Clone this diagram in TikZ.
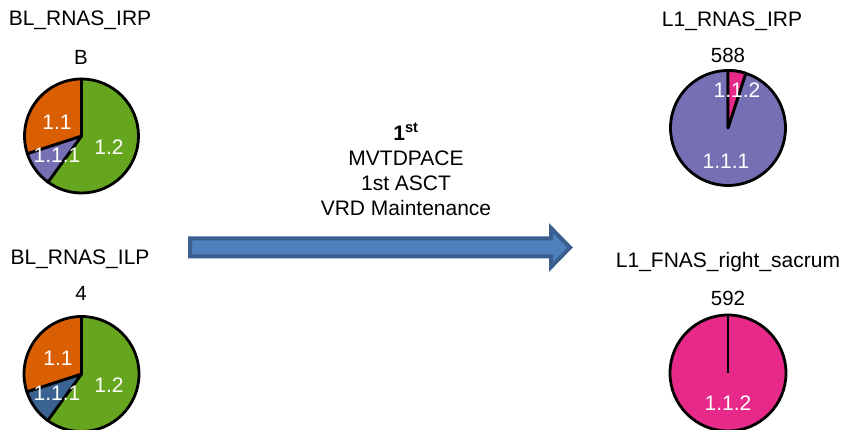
\documentclass[tikz,border=0pt]{standalone}
\usepackage{fontspec}
\setmainfont{Liberation Sans}
\usetikzlibrary{calc}
\definecolor{dgreen}{HTML}{66A61E}
\definecolor{dorange}{HTML}{D95F02}
\definecolor{dpurple}{HTML}{7570B3}
\definecolor{dpink}{HTML}{E7298A}
\definecolor{dblue}{HTML}{3B6392}
\definecolor{arrowfill}{HTML}{4F81BD}
\definecolor{arrowline}{HTML}{3A5F8F}
\tikzset{
  title/.style={font=\fontsize{21}{25}\selectfont},
  count/.style={font=\fontsize{20.5}{24}\selectfont},
  slicelabel/.style={text=white,font=\fontsize{21}{24}\selectfont},
  slice/.style={draw=black,line width=2.8pt,line join=round}
}
% slice: center, start angle, end angle, radius, colour
\newcommand{\pieslice}[5]{%
  \filldraw[slice,fill=#5] (#1) -- ++(#2:#4) arc[start angle=#2,end angle=#3,radius=#4] -- cycle;}
\begin{document}
\begin{tikzpicture}[x=1pt,y=1pt]
  \useasboundingbox (0,0) rectangle (846,430);

  % baseline, right pelvis
  \node[title] (t1) at (80,410) {BL\_RNAS\_IRP};
  \node[count] (n1) at (81,373) {B};
  \coordinate (c1) at (81.5,294);
  \pieslice{c1}{90}{-126}{57}{dgreen}
  \pieslice{c1}{234}{198}{57}{dpurple}
  \pieslice{c1}{198}{90}{57}{dorange}
  \node[slicelabel] (l11) at (57,308) {1.1};
  \node[slicelabel] (l12) at (109,283) {1.2};
  \node[slicelabel] (l13) at (57,275) {1.1.1};

  % baseline, left pelvis
  \node[title] (t2) at (80,171) {BL\_RNAS\_ILP};
  \node[count] (n2) at (81,137) {4};
  \coordinate (c2) at (81.5,56);
  \pieslice{c2}{90}{-126}{57.5}{dgreen}
  \pieslice{c2}{234}{198}{57.5}{dblue}
  \pieslice{c2}{198}{90}{57.5}{dorange}
  \node[slicelabel] (l21) at (58,72) {1.1};
  \node[slicelabel] (l22) at (109,45) {1.2};
  \node[slicelabel] (l23) at (57,37) {1.1.1};

  % first line of treatment
  \node[title,align=center] (tx) at (406,260.5)
    {\textbf{1\textsuperscript{st}}\\MVTDPACE\\1st ASCT\\VRD Maintenance};
  \coordinate (a1) at (190,182.5);
  \coordinate (a2) at (570,182.5);
  \filldraw[fill=arrowfill,draw=arrowline,line width=4pt,line join=miter]
    ($(a1)+(0,9)$) -- (551,191.5) -- (551,202) -- (a2)
    -- (551,163) -- (551,173.5) -- ($(a1)+(0,-9)$) -- cycle;

  % first relapse, right pelvis
  \node[title] (t3) at (732,409) {L1\_RNAS\_IRP};
  \node[count] (n3) at (728,375) {588};
  \coordinate (c3) at (728,302);
  \pieslice{c3}{90}{-288}{57.5}{dpurple}
  \pieslice{c3}{90}{72}{57.5}{dpink}
  \node[slicelabel] (l31) at (737,340) {1.1.2};
  \node[slicelabel] (l32) at (726,269) {1.1.1};

  % first relapse, sacrum
  \node[title] (t4) at (728,168) {L1\_FNAS\_right\_sacrum};
  \node[count] (n4) at (728,132) {592};
  \coordinate (c4) at (728,57);
  \filldraw[slice,fill=dpink] (c4) circle[radius=58];
  \draw[slice] (c4) -- ++(90:58);
  \node[slicelabel] (l41) at (728,27) {1.1.2};
\end{tikzpicture}
\end{document}
